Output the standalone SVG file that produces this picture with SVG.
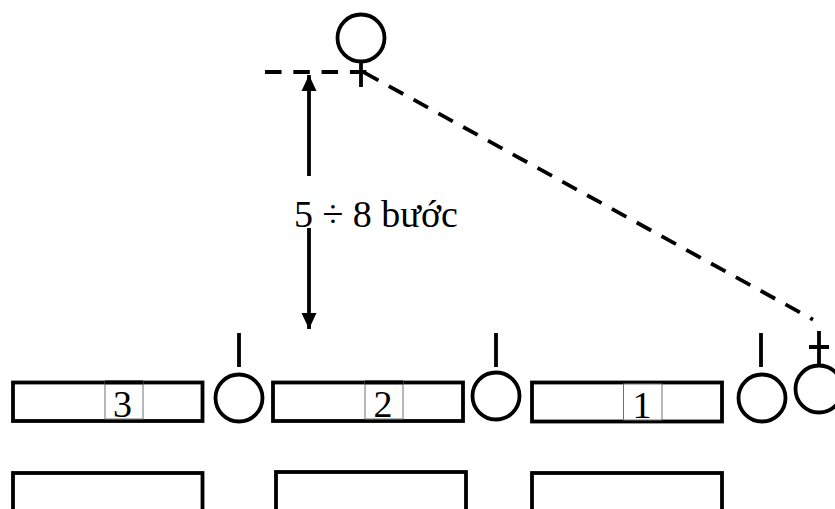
<svg xmlns="http://www.w3.org/2000/svg" width="835" height="509" viewBox="0 0 835 509">
<style>
.s{fill:none;stroke:#000;stroke-width:3.8}
.b{fill:#fff;stroke:#707070;stroke-width:1}
.d{fill:none;stroke:#000;stroke-width:3.8;stroke-dasharray:16.5 11.8}
.t{font-family:"Liberation Serif","Times New Roman",serif;font-size:38px;fill:#000}
.m{text-anchor:middle}
</style>
<defs>
<marker id="a" markerUnits="userSpaceOnUse" markerWidth="16" markerHeight="16" refX="16" refY="8" orient="auto">
<path d="M0 0.5L16 8L0 15.5Z" fill="#000"/>
</marker>
</defs>
<rect width="835" height="509" fill="#fff"/>
<g id="connectors">
<path class="d" d="M265 72H367"/>
<path class="d" d="M364 72.400L813 319.600"/>
<path class="s" d="M309 176V75" marker-end="url(#a)"/>
<path class="s" d="M309 228V329" marker-end="url(#a)"/>
</g>
<g id="label"><text class="t" x="294" y="227">5 ÷ 8 bước</text></g>
<g id="leader"><circle class="s" cx="361" cy="38" r="23.500"/><path class="s" d="M361 62V87"/></g>
<g id="row3">
<rect class="s" x="13" y="382.500" width="189.500" height="38.500"/>
<rect class="b" x="105" y="382" width="38" height="37"/>
<path class="s" d="M105 382.500H143"/>
<text class="t m" x="122.500" y="417">3</text>
</g>
<g id="person3"><circle class="s" cx="239" cy="398" r="23.500"/><path class="s" d="M239 333V367"/></g>
<g id="row2">
<rect class="s" x="273" y="382.500" width="190" height="38.500"/>
<rect class="b" x="365" y="382" width="38" height="37"/>
<path class="s" d="M365 382.500H403"/>
<text class="t m" x="383" y="417">2</text>
</g>
<g id="person2"><circle class="s" cx="496" cy="396" r="23.500"/><path class="s" d="M496 333V367"/></g>
<g id="row1">
<rect class="s" x="532" y="382.500" width="190" height="39"/>
<rect class="b" x="623.500" y="384" width="38.500" height="36"/>
<text class="t m" x="642" y="418">1</text>
</g>
<g id="person1"><circle class="s" cx="762" cy="398" r="23.500"/><path class="s" d="M761 333V367"/></g>
<g id="follower"><circle class="s" cx="819" cy="389" r="23.500"/><path class="s" d="M819 331V365M809 347H829"/></g>
<g id="lower3"><rect class="s" x="13" y="473" width="189.500" height="60"/></g>
<g id="lower2"><rect class="s" x="276" y="472" width="190" height="60"/></g>
<g id="lower1"><rect class="s" x="532" y="473" width="190" height="60"/></g>
</svg>
